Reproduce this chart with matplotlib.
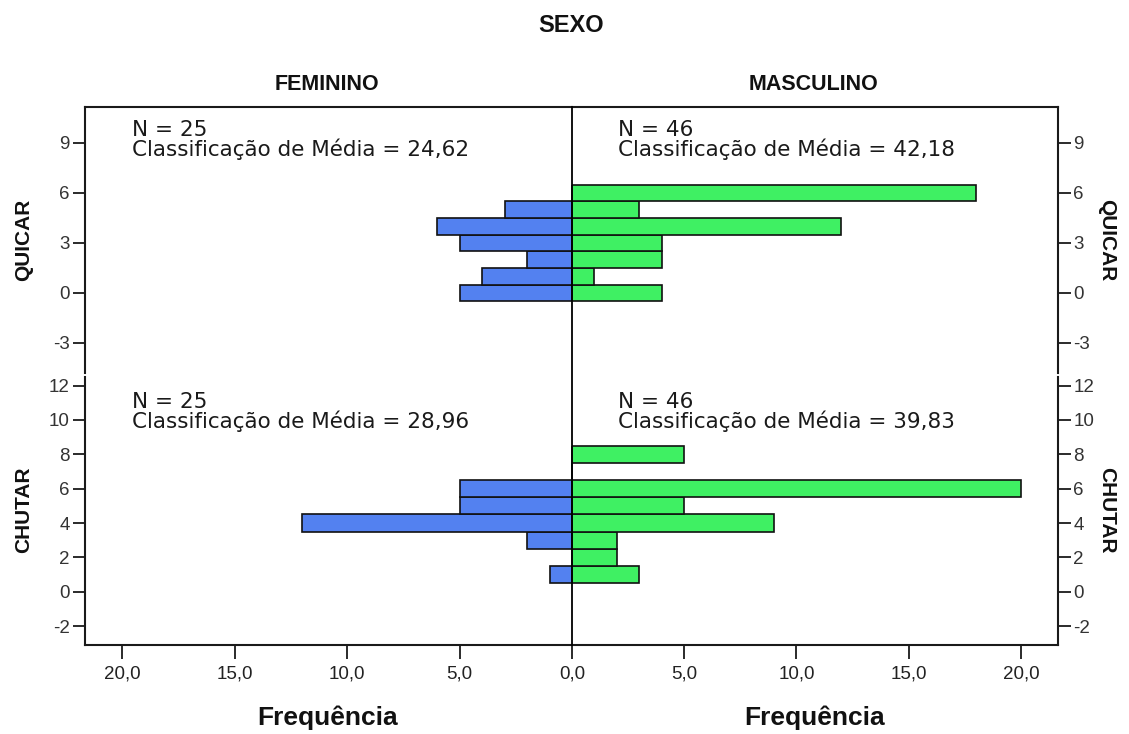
import matplotlib
matplotlib.use('Agg')
import matplotlib.pyplot as plt
from matplotlib.ticker import FuncFormatter
from matplotlib.lines import Line2D

# ---- data ----
quicar_values = [0, 1, 2, 3, 4, 5, 6]
quicar_fem = [5, 4, 2, 5, 6, 3, 0]
quicar_masc = [4, 1, 4, 4, 12, 3, 18]

chutar_values = [1, 2, 3, 4, 5, 6, 7, 8]
chutar_fem = [1, 0, 2, 12, 5, 5, 0, 0]
chutar_masc = [3, 2, 2, 9, 5, 20, 0, 5]

quicar_yticks = [-3, 0, 3, 6, 9]
chutar_yticks = [-2, 0, 2, 4, 6, 8, 10, 12]
x_ticks_left = [20, 15, 10, 5, 0]
x_ticks_right = [5, 10, 15, 20]

texts_quicar = ["N = 25\nClassificação de Média = 24,62",
                "N = 46\nClassificação de Média = 42,18"]
texts_chutar = ["N = 25\nClassificação de Média = 28,96",
                "N = 46\nClassificação de Média = 39,83"]

title = "SEXO"
col_titles = ["FEMININO", "MASCULINO"]
row_titles = ["QUICAR", "CHUTAR"]
xlabel = "Frequência"

blue = '#5381f0'
green = '#3ff063'

FONT = ['Liberation Sans', 'DejaVu Sans']
plt.rcParams['font.family'] = FONT
plt.rcParams['axes.unicode_minus'] = False

W, H = 1129, 734
fig = plt.figure(figsize=(W / 100, H / 100), dpi=100)


def fx(px):
    return px / W


def fy(py):
    return 1 - py / H


xL, xC, xR = 85, 572, 1058
top_t, top_b = 107, 373
bot_t, bot_b = 377, 645
XMAX = 21.65

axes = {}
for r, (t, b) in enumerate([(top_t, top_b), (bot_t, bot_b)]):
    axL = fig.add_axes([fx(xL), fy(b), fx(xC - xL), (b - t) / H])
    axR = fig.add_axes([fx(xC), fy(b), fx(xR - xC), (b - t) / H])
    axes[r] = (axL, axR)

spine_c = '#1a1a1a'
slw = 1.5
tick_fs = 13.5


def style(axL, axR, ylim, yticks, bottom):
    for ax in (axL, axR):
        ax.set_ylim(*ylim)
        ax.set_facecolor('white')
        for s in ax.spines.values():
            s.set_color(spine_c)
            s.set_linewidth(slw)
        ax.spines['top'].set_visible(not bottom)
        ax.spines['bottom'].set_visible(bottom)
    axL.set_xlim(XMAX, 0)
    axR.set_xlim(0, XMAX)
    axR.spines['left'].set_visible(False)
    axL.spines['right'].set_visible(False)
    axL.set_yticks(yticks)
    axL.tick_params(axis='y', direction='out', length=9, width=1.3,
                    color=spine_c, labelsize=tick_fs, labelcolor='#333333',
                    pad=2)
    axR.set_yticks(yticks)
    axR.tick_params(axis='y', left=False, labelleft=False, right=True,
                    labelright=True, direction='out', length=9, width=1.3,
                    color=spine_c, labelsize=tick_fs, labelcolor='#333333',
                    pad=2)
    fmt = FuncFormatter(lambda v, p: f"{v:.1f}".replace('.', ','))
    if bottom:
        axL.set_xticks(x_ticks_left)
        axR.set_xticks(x_ticks_right)
        for ax in (axL, axR):
            ax.xaxis.set_major_formatter(fmt)
            ax.tick_params(axis='x', direction='out', length=10, width=1.3,
                           color=spine_c, labelsize=tick_fs,
                           labelcolor='#222222', pad=5)
    else:
        for ax in (axL, axR):
            ax.set_xticks([])


# top row: QUICAR
axL, axR = axes[0]
axL.barh(quicar_values, quicar_fem, height=1.0, color=blue,
         edgecolor='#111111', linewidth=1.2, zorder=3)
axR.barh(quicar_values, quicar_masc, height=1.0, color=green,
         edgecolor='#111111', linewidth=1.2, zorder=3)
style(axL, axR, (-4.8, 11.15), quicar_yticks, bottom=False)

# bottom row: CHUTAR
axL, axR = axes[1]
axL.barh(chutar_values, chutar_fem, height=1.0, color=blue,
         edgecolor='#111111', linewidth=1.2, zorder=3)
axR.barh(chutar_values, chutar_masc, height=1.0, color=green,
         edgecolor='#111111', linewidth=1.2, zorder=3)
style(axL, axR, (-3.1, 12.5), chutar_yticks, bottom=True)

# central zero line across both panels
fig.add_artist(Line2D([fx(xC), fx(xC)], [fy(top_t), fy(bot_b)],
                      color='black', linewidth=1.3, zorder=10))

# annotations
ann_kw = dict(fontsize=15.5, family=['DejaVu Sans'], color='#1a1a1a',
              ha='left', va='top', linespacing=0.92)
fig.text(fx(132), fy(120), texts_quicar[0], **ann_kw)
fig.text(fx(618), fy(120), texts_quicar[1], **ann_kw)
fig.text(fx(132), fy(392), texts_chutar[0], **ann_kw)
fig.text(fx(618), fy(392), texts_chutar[1], **ann_kw)

# titles
fig.text(fx(571), fy(26), title, ha='center', va='center',
         fontsize=17, fontweight='bold', color='#111111')
fig.text(fx(327), fy(84), col_titles[0], ha='center', va='center',
         fontsize=15.5, fontweight='bold', color='#111111')
fig.text(fx(814), fy(84), col_titles[1], ha='center', va='center',
         fontsize=15.5, fontweight='bold', color='#111111')

for i, yc in enumerate([240, 510]):
    fig.text(fx(24), fy(yc), row_titles[i], ha='center', va='center',
             rotation=90, fontsize=15, fontweight='bold', color='#111111')
    fig.text(fx(1107), fy(yc), row_titles[i], ha='center', va='center',
             rotation=270, fontsize=15, fontweight='bold', color='#111111')

fig.text(fx(328), fy(718), xlabel, ha='center', va='center',
         fontsize=19, fontweight='bold', color='#111111')
fig.text(fx(815), fy(718), xlabel, ha='center', va='center',
         fontsize=19, fontweight='bold', color='#111111')

fig.savefig('out.png', dpi=100, facecolor='white')
